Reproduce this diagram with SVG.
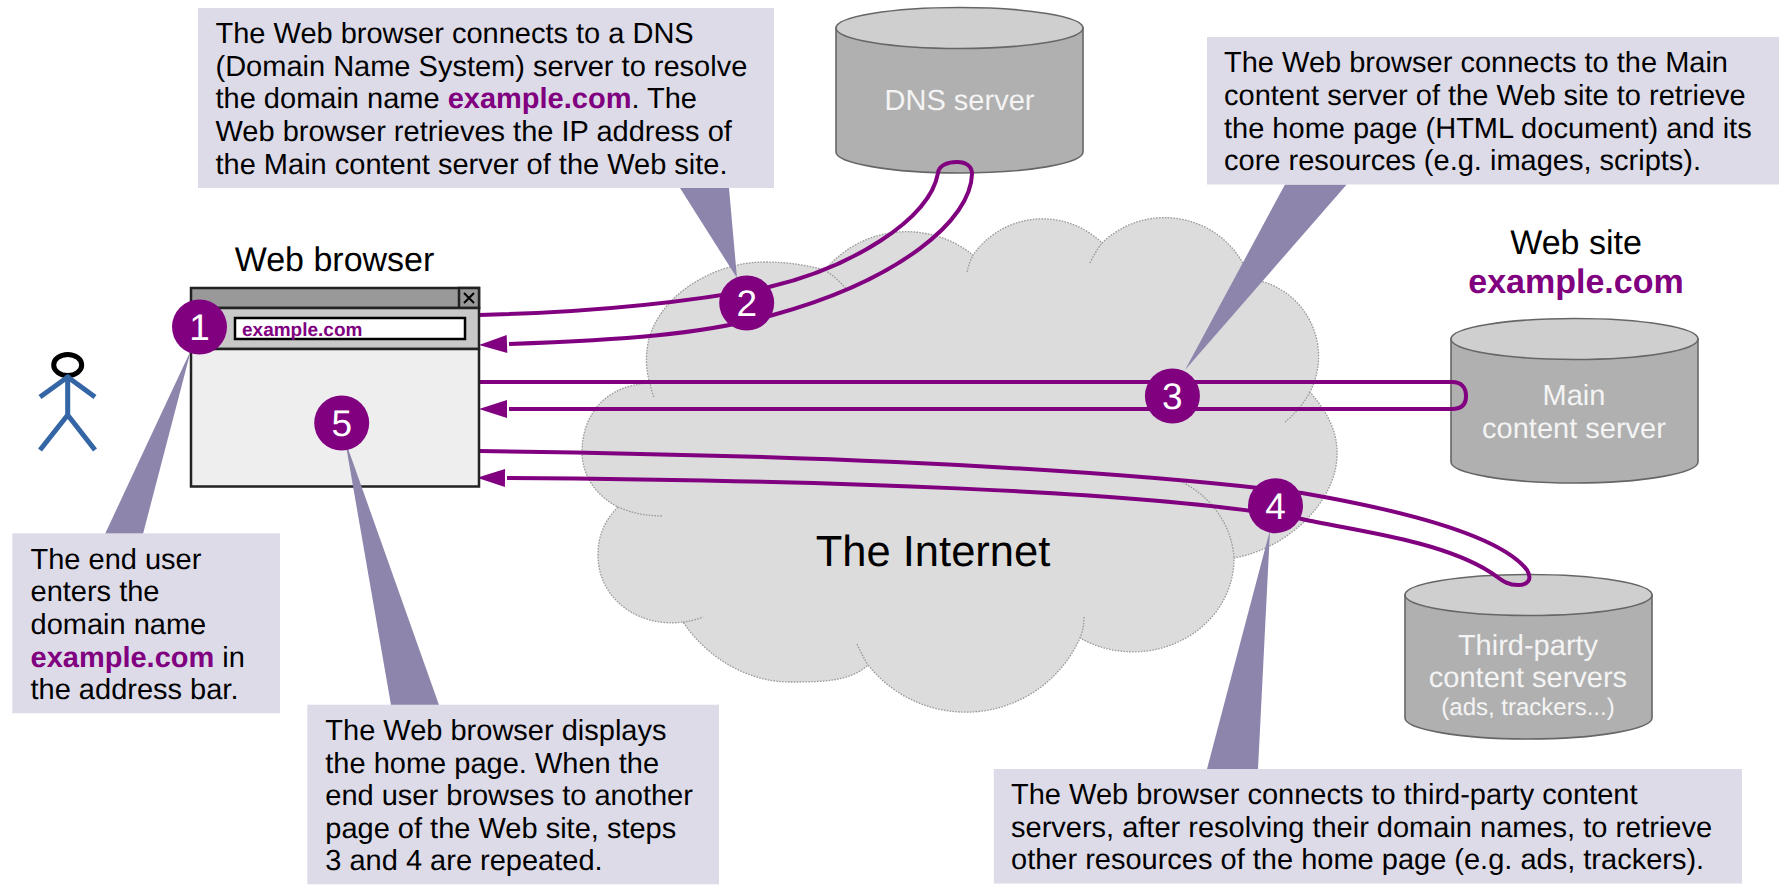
<svg xmlns="http://www.w3.org/2000/svg" width="1779" height="888" viewBox="0 0 1779 888">
<style>
text{font-family:"Liberation Sans",Arial,sans-serif;text-rendering:geometricPrecision}
.t{font-size:29px;fill:#000}
.b{font-weight:bold;fill:#800080}
.cap{font-size:34px;fill:#000;text-anchor:middle}
.srv{font-size:29px;fill:#f4f4f4;text-anchor:middle}
.num{font-size:37px;fill:#fff;text-anchor:middle}
.box{fill:#dddbe8}
.ptr{fill:#8e85ad}
.disc{fill:#800080}
.cyl{fill:#b0b0b0;stroke:#666;stroke-width:1.6}
.top{fill:#cfcfcf;stroke:#666;stroke-width:1.6}
.cl{fill:#dcdcdc;stroke:#999;stroke-width:1.3;stroke-dasharray:1.6 1.3}
.tail{fill:none;stroke:#999;stroke-width:1.3;stroke-dasharray:1.6 1.3}
.wire{fill:none;stroke:#800080;stroke-width:4}
.win{stroke:#222;stroke-width:2.5}
.man{fill:none;stroke:#3465a4;stroke-width:5}
</style>
<defs>
<marker id="arrow" markerUnits="userSpaceOnUse" viewBox="-2 0 30 18" refX="-2" refY="9" markerWidth="30" markerHeight="18" orient="auto"><path d="M0,0 L28,9 L0,18 Z" fill="#800080"/></marker>
</defs>

<g id="cloud">
<path class="cl" d="M650,383 C646,372 646,358 647,350 C652,300 710,262 765,262 C790,262 810,266 825,270 A106 106 0 0 1 973,255 A85 85 0 0 1 1102,243 A90 90 0 0 1 1250,279 A78 78 0 0 1 1310,392 C1330,415 1338,435 1337,456 C1336,500 1290,548 1234,558 A101 93 0 0 1 1080,638 A125 125 0 0 1 868,665 C850,682 820,682 790,682 C745,682 705,655 683,622 C640,628 598,600 598,555 C598,535 605,520 618,507 C595,495 582,475 582,452 C582,415 605,385 650,383 Z"/>
<path class="tail" d="M654,397 Q651,390 650,383 M825,270 Q838,279 847,290 M967,272 Q969,263 973,255 M1090,263 Q1095,252 1102,243 M1310,392 Q1300,410 1285,422 M1178,480 A101 93 0 0 1 1234,558 M1084,617 Q1084,628 1080,638 M857,644 Q862,655 868,665 M683,622 Q693,621 703,617 M618,507 Q638,516 663,516"/>
<text x="933" y="566" style="font-size:43.500px" text-anchor="middle" fill="#000">The Internet</text>
</g>

<g id="dns-server">
<path class="cyl" d="M836,28 V152 C836,163 890,173 960,173 C1030,173 1083,163 1083,152 V28 Z"/>
<ellipse class="top" cx="959.5" cy="28" rx="123.5" ry="20.5"/>
<text class="srv" x="959.5" y="110">DNS server</text>
</g>

<g id="main-server">
<path class="cyl" d="M1451,339 V462 C1451,473 1505,483 1574,483 C1643,483 1698,473 1698,462 V339 Z"/>
<ellipse class="top" cx="1574.5" cy="339" rx="123.5" ry="20.5"/>
<text class="srv" x="1574" y="405">Main</text>
<text class="srv" x="1574" y="438">content server</text>
</g>

<g id="third-party-servers">
<path class="cyl" d="M1405,595 V718 C1405,729 1459,739 1528,739 C1597,739 1652,729 1652,718 V595 Z"/>
<ellipse class="top" cx="1528.5" cy="595" rx="123.5" ry="20.5"/>
<text class="srv" x="1528" y="655">Third-party</text>
<text class="srv" x="1528" y="687">content servers</text>
<text class="srv" x="1528" y="715" style="font-size:24px">(ads, trackers...)</text>
</g>

<g id="connectors">
<path class="wire" marker-end="url(#arrow)" d="M479,315 C600,312 700,300 769,287 C850,268 930,220 938,173 C939,165 948,162 957,162 C966,162 972,166 972,174 C971,220 900,280 773,315 C700,335 620,340 509,344"/>
<path class="wire" marker-end="url(#arrow)" d="M479,382 H1452 C1462,382 1466,388 1466,396 C1466,404 1462,409 1452,409 H509"/>
<path class="wire" marker-end="url(#arrow)" d="M479,451 C800,455 1100,468 1302,493 C1400,510 1500,535 1527,570 C1533,580 1527,585 1518,585 C1505,585 1500,578 1490,572 C1440,540 1350,530 1302,519 C1150,490 800,480 507,478"/>
</g>

<g id="end-user">
<ellipse cx="67.7" cy="365" rx="14" ry="10.5" fill="#fff" stroke="#000" stroke-width="5"/>
<path class="man" d="M67.7,375 V415 M40,397 L67.7,377 L95,397 M40,450 L67.7,415 L95,450"/>
</g>

<g id="web-browser">
<text class="cap" x="334.5" y="271">Web browser</text>
<rect class="win" x="191" y="288" width="288" height="20" fill="#999"/>
<rect class="win" x="459" y="288" width="20" height="20" fill="#999"/>
<path d="M464,293 L474,303 M474,293 L464,303" stroke="#000" stroke-width="2" fill="none"/>
<rect class="win" x="191" y="308" width="288" height="41" fill="#c8c8c8"/>
<rect class="win" x="191" y="349" width="288" height="137.500" fill="#eeeeee"/>
<rect x="235" y="318" width="230" height="21" fill="#fff" stroke="#000" stroke-width="2.500"/>
<text x="242" y="336" style="font-size:19px;font-weight:bold;fill:#800080">example.com</text>
</g>

<g id="website-label">
<text class="cap" x="1576" y="254">Web site</text>
<text class="cap" x="1576" y="293" style="font-weight:bold;fill:#800080">example.com</text>
</g>

<g id="note-1">
<polygon class="ptr" points="191,350 105,534 143,534"/>
<rect class="box" x="12.300" y="533.300" width="267.700" height="180"/>
<text class="t" x="30.500" y="568.500">The end user</text>
<text class="t" x="30.500" y="601.200">enters the</text>
<text class="t" x="30.500" y="633.900">domain name</text>
<text class="t" x="30.500" y="666.600"><tspan class="b">example.com</tspan> in</text>
<text class="t" x="30.500" y="699.300">the address bar.</text>
</g>

<g id="note-2">
<polygon class="ptr" points="737,278 680,188 729,188"/>
<rect class="box" x="198" y="8" width="576" height="180"/>
<text class="t" x="215.500" y="43.200">The Web browser connects to a DNS</text>
<text class="t" x="215.500" y="75.800">(Domain Name System) server to resolve</text>
<text class="t" x="215.500" y="108.400">the domain name <tspan class="b">example.com</tspan>. The</text>
<text class="t" x="215.500" y="141">Web browser retrieves the IP address of</text>
<text class="t" x="215.500" y="173.600">the Main content server of the Web site.</text>
</g>

<g id="note-3">
<polygon class="ptr" points="1185,370 1285,184.500 1346.700,184.500"/>
<rect class="box" x="1207" y="37" width="572" height="147.500"/>
<text class="t" x="1224" y="72.300">The Web browser connects to the Main</text>
<text class="t" x="1224" y="104.900">content server of the Web site to retrieve</text>
<text class="t" x="1224" y="137.500">the home page (HTML document) and its</text>
<text class="t" x="1224" y="170.100">core resources (e.g. images, scripts).</text>
</g>

<g id="note-4">
<polygon class="ptr" points="1270,530 1207,769 1258,769"/>
<rect class="box" x="993.800" y="769" width="748.200" height="114.500"/>
<text class="t" x="1011" y="804">The Web browser connects to third-party content</text>
<text class="t" x="1011" y="836.600">servers, after resolving their domain names, to retrieve</text>
<text class="t" x="1011" y="869.200">other resources of the home page (e.g. ads, trackers).</text>
</g>

<g id="note-5">
<polygon class="ptr" points="345,440 391,705 439,705"/>
<rect class="box" x="307.300" y="704.700" width="411.700" height="179.600"/>
<text class="t" x="325.300" y="740">The Web browser displays</text>
<text class="t" x="325.300" y="772.600">the home page. When the</text>
<text class="t" x="325.300" y="805.200">end user browses to another</text>
<text class="t" x="325.300" y="837.800">page of the Web site, steps</text>
<text class="t" x="325.300" y="870.400">3 and 4 are repeated.</text>
</g>

<g id="step-1"><circle class="disc" cx="199.500" cy="327" r="27.500"/><text class="num" x="199.500" y="340">1</text></g>
<g id="step-2"><circle class="disc" cx="746.700" cy="303" r="27.500"/><text class="num" x="746.700" y="316">2</text></g>
<g id="step-3"><circle class="disc" cx="1172.400" cy="396" r="27.500"/><text class="num" x="1172.400" y="409">3</text></g>
<g id="step-4"><circle class="disc" cx="1275.500" cy="505.700" r="27.500"/><text class="num" x="1275.500" y="519">4</text></g>
<g id="step-5"><circle class="disc" cx="341.700" cy="423" r="27.500"/><text class="num" x="341.700" y="436">5</text></g>
</svg>
